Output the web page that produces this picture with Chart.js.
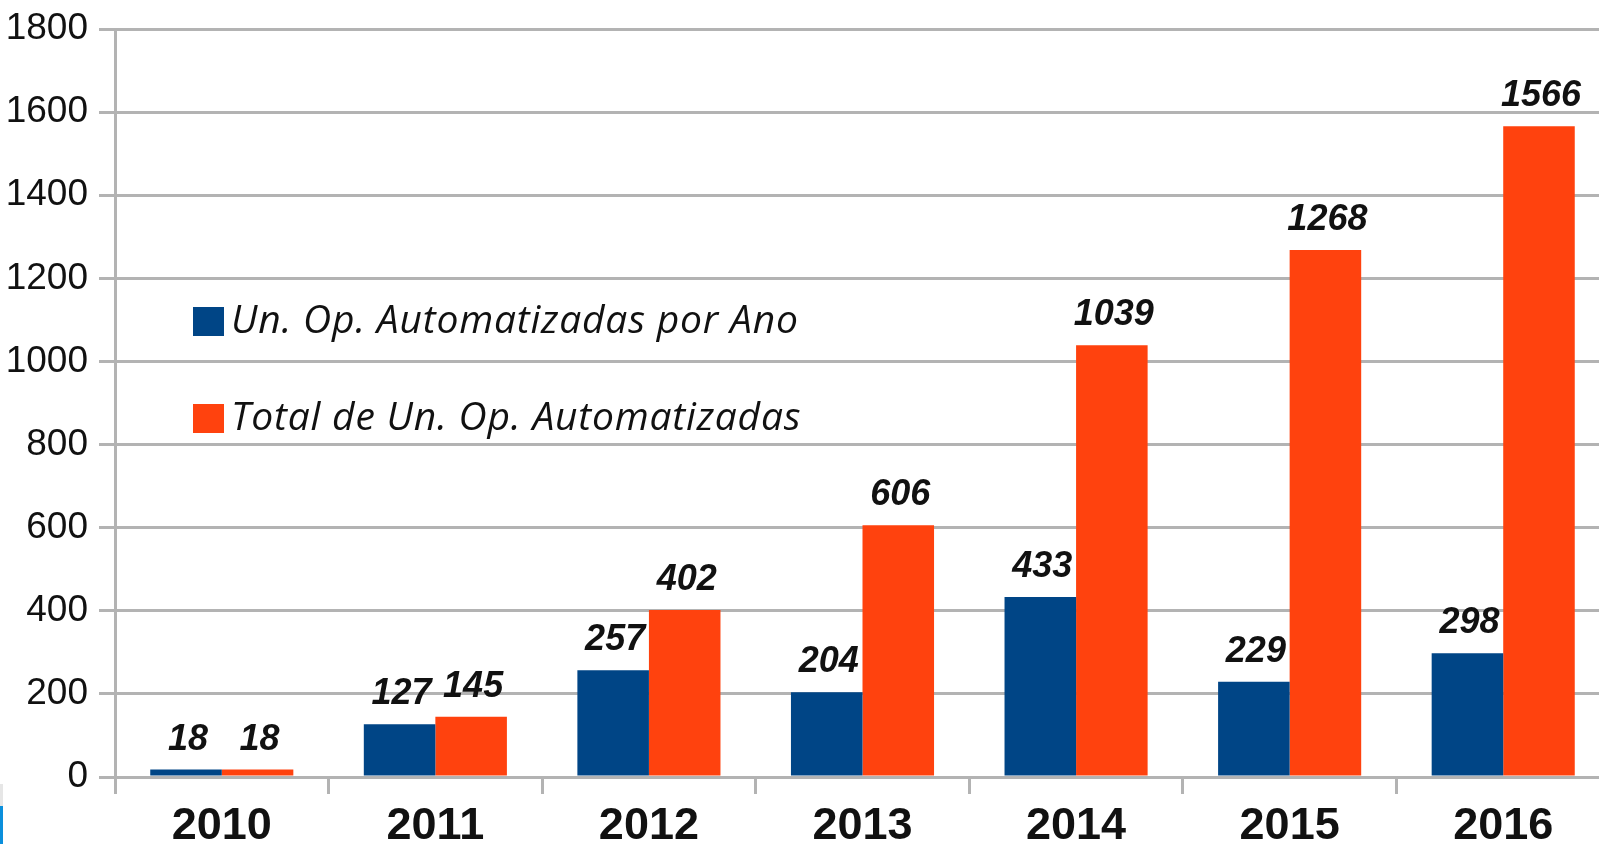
<!DOCTYPE html>
<html>
<head>
<meta charset="utf-8">
<script src="https://cdn.jsdelivr.net/npm/chart.js@4.4.1/dist/chart.umd.min.js"></script>
<style>
  html, body { margin: 0; padding: 0; background: #ffffff; overflow: hidden; width: 1599px; height: 844px; }
  #wrap { position: absolute; left: 0; top: 0; width: 1610px; height: 844px; }
  #edge1 { position: absolute; left: 0; top: 784px; width: 3px; height: 22px; background: #e6e6e6; }
  #edge2 { position: absolute; left: 0; top: 806px; width: 3px; height: 38px; background: #0a8fdc; }
</style>
</head>
<body>
<div id="wrap"><canvas id="c" width="1610" height="844"></canvas></div>
<div id="edge1"></div><div id="edge2"></div>
<script>
// ---- data ----
const years = ['2010', '2011', '2012', '2013', '2014', '2015', '2016'];
const perYear = [18, 127, 257, 204, 433, 229, 298];
const totals = [18, 145, 402, 606, 1039, 1268, 1566];
const seriesNames = ['Un. Op. Automatizadas por Ano', 'Total de Un. Op. Automatizadas'];
const yTicks = [0, 200, 400, 600, 800, 1000, 1200, 1400, 1600, 1800];

const BLUE = '#004586';
const ORANGE = '#ff420e';
const GRID = '#b3b3b3';

const valueLabels = {
  id: 'valueLabels',
  afterDatasetsDraw(chart) {
    const ctx = chart.ctx;
    ctx.save();
    ctx.font = 'italic bold 36px "Liberation Sans", Arial, sans-serif';
    ctx.fillStyle = '#111111';
    ctx.textAlign = 'center';
    ctx.textBaseline = 'alphabetic';
    chart.data.datasets.forEach((ds, i) => {
      const meta = chart.getDatasetMeta(i);
      meta.data.forEach((bar, j) => {
        ctx.fillText(String(ds.data[j]), bar.x + 2, bar.y - 20);
      });
    });
    ctx.restore();
  }
};

const innerLegend = {
  id: 'innerLegend',
  afterDraw(chart) {
    const ctx = chart.ctx;
    ctx.save();
    ctx.font = 'italic 39px "Open Sans", "DejaVu Sans", sans-serif';
    ctx.letterSpacing = '0.8px';
    ctx.textBaseline = 'alphabetic';
    ctx.textAlign = 'left';
    chart.data.datasets.forEach((ds, i) => {
      const top = 307 + i * 97;
      ctx.fillStyle = ds.backgroundColor;
      ctx.fillRect(193, top, 31, 29);
      ctx.fillStyle = '#111111';
      ctx.fillText(ds.label, 231, top + 26);
    });
    ctx.restore();
  }
};

new Chart(document.getElementById('c'), {
  type: 'bar',
  data: {
    labels: years,
    datasets: [
      { label: seriesNames[0], data: perYear, backgroundColor: BLUE, categoryPercentage: 0.67, barPercentage: 1.0 },
      { label: seriesNames[1], data: totals, backgroundColor: ORANGE, categoryPercentage: 0.67, barPercentage: 1.0 }
    ]
  },
  options: {
    responsive: false,
    animation: false,
    devicePixelRatio: 1,
    layout: { padding: { top: 29, left: 0, right: 0, bottom: 0 } },
    plugins: {
      legend: { display: false },
      title: { display: false },
      tooltip: { enabled: false }
    },
    scales: {
      x: {
        offset: true,
        grid: { display: true, drawOnChartArea: false, drawTicks: true, tickLength: 17, color: GRID, lineWidth: 3, offset: true },
        border: { display: true, color: GRID, width: 3 },
        ticks: { color: '#111111', font: { family: '"Liberation Sans", Arial, sans-serif', size: 45, weight: 'bold' }, padding: 6, maxRotation: 0, autoSkip: false },
        afterFit(scale) { scale.height = 67; scale.paddingLeft = 0; scale.paddingRight = 0; }
      },
      y: {
        min: 0,
        max: 1800,
        afterBuildTicks(scale) { scale.ticks = yTicks.map(v => ({ value: v })); },
        grid: { color: GRID, lineWidth: 3, drawTicks: true, tickLength: 16 },
        border: { display: true, color: GRID, width: 3 },
        ticks: {
          color: '#111111',
          font: { family: '"Liberation Sans", Arial, sans-serif', size: 37 },
          padding: 11,
          callback: (v) => String(v)
        },
        afterFit(scale) { scale.width = 115; scale.paddingTop = 0; scale.paddingBottom = 0; }
      }
    }
  },
  plugins: [valueLabels, innerLegend]
});
</script>
</body>
</html>
